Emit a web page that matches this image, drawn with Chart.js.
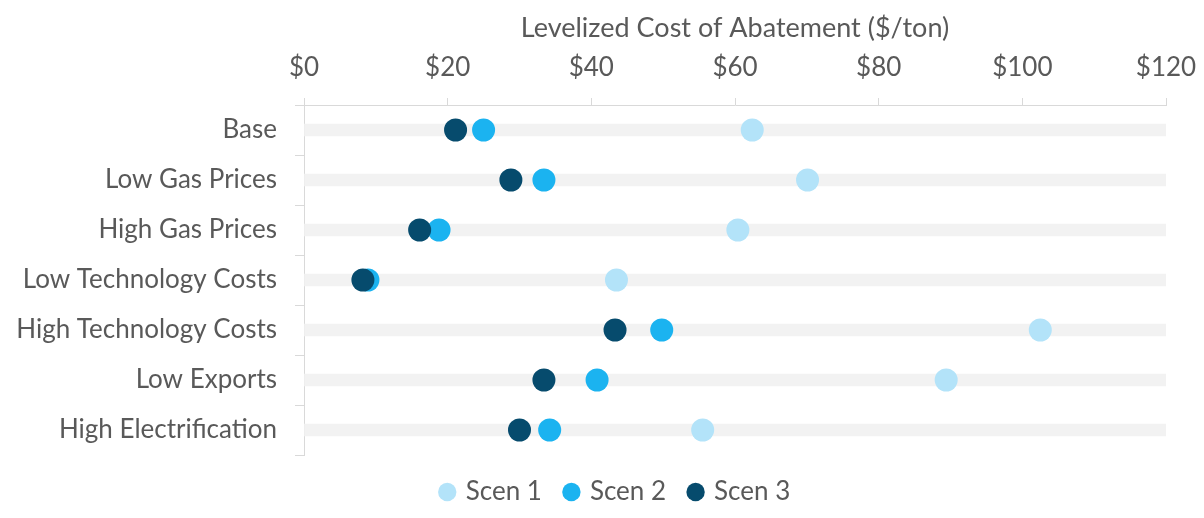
<!DOCTYPE html>
<html>
<head>
<meta charset="utf-8">
<script src="https://cdn.jsdelivr.net/npm/chart.js@4"></script>
<style>
  body { margin: 0; background: #fff; }
  #wrap { width: 1204px; height: 518px; }
</style>
</head>
<body>
<div id="wrap"><canvas id="abatementChart" width="1204" height="518"></canvas></div>
<script>
// data
const categories = [
  "Base",
  "Low Gas Prices",
  "High Gas Prices",
  "Low Technology Costs",
  "High Technology Costs",
  "Low Exports",
  "High Electrification",
];
const scen1 = [62.4, 70.1, 60.4, 43.5, 102.5, 89.4, 55.5];
const scen2 = [25.0, 33.4, 18.8, 8.9, 49.8, 40.8, 34.2];
const scen3 = [21.1, 28.8, 16.1, 8.2, 43.3, 33.4, 30.0];
const xMin = 0;
const xMax = 120;
const xStep = 20;

const textColor = "#595959";
const axisColor = "#d9d9d9";
const fontFamily = "Lato, 'Open Sans', sans-serif";

function dotSet(label, values, color, order) {
  return {
    type: "line",
    label: label,
    data: values,
    indexAxis: "y",
    showLine: false,
    backgroundColor: color,
    borderColor: color,
    pointBackgroundColor: color,
    pointBorderColor: color,
    pointRadius: 11.5,
    pointHoverRadius: 11.5,
    pointBorderWidth: 0,
    pointStyle: "circle",
    order: order,
  };
}

// legend sits a bit right of the canvas centre in the original
const legendShift = {
  id: "legendShift",
  afterLayout(chart) {
    chart.legend.left += 14;
    chart.legend.right += 14;
  },
};

const ctx = document.getElementById("abatementChart").getContext("2d");
const abatementChart = new Chart(ctx, {
  type: "bar",
  data: {
    labels: categories,
    datasets: [
      {
        label: "band",
        data: categories.map(() => [xMin, xMax]),
        backgroundColor: "#f2f2f2",
        barThickness: 12,
        order: 10,
      },
      dotSet("Scen 1", scen1, "#b3e3f9", 3),
      dotSet("Scen 2", scen2, "#1bb3f0", 2),
      dotSet("Scen 3", scen3, "#064b6d", 1),
    ],
  },
  options: {
    indexAxis: "y",
    responsive: false,
    animation: false,
    layout: { padding: { left: 0, right: 0, top: 0, bottom: 3 } },
    scales: {
      x: {
        type: "linear",
        position: "top",
        min: xMin,
        max: xMax,
        ticks: {
          stepSize: xStep,
          color: textColor,
          font: { family: fontFamily, size: 26 },
          padding: 15,
          callback: (v) => "$" + v,
        },
        grid: { drawOnChartArea: false, color: axisColor, tickLength: 7 },
        border: { color: axisColor },
        title: {
          display: true,
          text: "Levelized Cost of Abatement ($/ton)",
          color: textColor,
          font: { family: fontFamily, size: 27 },
          padding: { top: 12, bottom: 0 },
        },
        afterFit: (scale) => {
          scale.height = 105;
          scale.paddingRight = 38;
        },
      },
      y: {
        type: "category",
        offset: true,
        ticks: {
          color: textColor,
          font: { family: fontFamily, size: 26 },
          padding: 18,
        },
        grid: { offset: true, drawOnChartArea: false, color: axisColor, tickLength: 9 },
        border: { color: axisColor },
        afterFit: (scale) => {
          scale.width = 304;
        },
      },
    },
    plugins: {
      tooltip: { enabled: false },
      legend: {
        position: "bottom",
        maxHeight: 60,
        labels: {
          filter: (item) => item.datasetIndex !== 0,
          sort: (a, b) => a.datasetIndex - b.datasetIndex,
          usePointStyle: true,
          pointStyle: "circle",
          boxHeight: 13,
          boxWidth: 11,
          padding: 24,
          color: textColor,
          font: { family: fontFamily, size: 26 },
        },
      },
    },
  },
  plugins: [legendShift],
});
</script>
</body>
</html>
